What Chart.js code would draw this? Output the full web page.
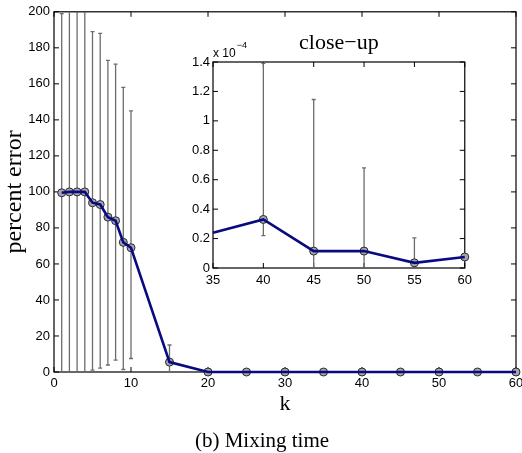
<!DOCTYPE html>
<html>
<head>
<meta charset="utf-8">
<script src="https://cdn.jsdelivr.net/npm/chart.js@4/dist/chart.umd.min.js"></script>
<style>
body { margin: 0; background: #fff; }
#wrap { position: relative; width: 522px; height: 453px; overflow: hidden; }
#main { position: absolute; left: 0; top: 0; }
#inset { position: absolute; left: 165px; top: 30px; }
#caption { position: absolute; left: 0; top: 429px; width: 524px; text-align: center;
  font: 21px "Liberation Serif", serif; line-height: 22px; color: #000; }
</style>
</head>
<body>
<div id="wrap">
  <canvas id="main" width="522" height="453"></canvas>
  <canvas id="inset" width="312" height="262"></canvas>
  <div id="caption">(b) Mixing time</div>
</div>
<script>
// main plot: percent error vs k
var kValues     = [1, 2, 3, 4, 5, 6, 7, 8, 9, 10, 15, 20, 25, 30, 35, 40, 45, 50, 55, 60];
var errValues   = [99.5, 100, 100, 100, 94, 93, 86, 84, 72, 69, 5.5, 0, 0, 0, 0, 0, 0, 0, 0, 0];
var errUpper    = [199, 206, 200, 200, 189, 188, 173, 171, 158, 145, 15, null, null, null, null, null, null, null, null, null];
var errLower    = [-2, -8, -4, -3, 1, 2.2, 3.9, 6.6, 1.4, 7.5, -4, null, null, null, null, null, null, null, null, null];

// inset close-up (values in units of 1e-4)
var insetK      = [35, 40, 45, 50, 55, 60];
var insetValues = [0.24, 0.33, 0.115, 0.115, 0.035, 0.075];
var insetUpper  = [null, 1.39, 1.145, 0.68, 0.205, null];
var insetLower  = [null, 0.22, -0.5, -0.3, -0.1, null];
var insetRadius = [0, 4, 4, 4, 4, 4];
var insetTitle  = 'close\u2212up';

var lineColor = '#0a0a80';
var markerFill = '#a6a6b0';
var markerEdge = '#2a2a2a';
var tickFont = { family: 'Liberation Sans', size: 13 };

function toPoints(xs, ys) {
    var pts = [];
    for (var i = 0; i < xs.length; i++) pts.push({ x: xs[i], y: ys[i] });
    return pts;
}

// box around plot + inward ticks
var framePlugin = {
    id: 'frame',
    beforeDatasetsDraw: function (chart) {
        var ctx = chart.ctx, a = chart.chartArea, len = 5;
        var xs = chart.scales.x, ys = chart.scales.y;
        ctx.save();
        ctx.strokeStyle = '#000';
        ctx.lineWidth = 1.2;
        ctx.strokeRect(a.left, a.top, a.right - a.left, a.bottom - a.top);
        ctx.lineWidth = 1;
        ctx.beginPath();
        xs.ticks.forEach(function (t) {
            var x = xs.getPixelForValue(t.value);
            ctx.moveTo(x, a.bottom); ctx.lineTo(x, a.bottom - len);
            ctx.moveTo(x, a.top); ctx.lineTo(x, a.top + len);
        });
        ys.ticks.forEach(function (t) {
            var y = ys.getPixelForValue(t.value);
            ctx.moveTo(a.left, y); ctx.lineTo(a.left + len, y);
            ctx.moveTo(a.right, y); ctx.lineTo(a.right - len, y);
        });
        ctx.stroke();
        ctx.restore();
    }
};

var errorBarPlugin = {
    id: 'errorBars',
    beforeDatasetsDraw: function (chart) {
        var ctx = chart.ctx, a = chart.chartArea;
        var xs = chart.scales.x, ys = chart.scales.y;
        ctx.save();
        ctx.beginPath();
        ctx.rect(a.left, a.top, a.right - a.left, a.bottom - a.top);
        ctx.clip();
        ctx.strokeStyle = '#6c6c6c';
        ctx.lineWidth = 1.3;
        chart.data.datasets.forEach(function (ds) {
            if (!ds.errUpper) return;
            ds.data.forEach(function (p, i) {
                var hi = ds.errUpper[i], lo = ds.errLower[i];
                if (hi == null) return;
                var x = xs.getPixelForValue(p.x);
                var y1 = ys.getPixelForValue(hi), y0 = ys.getPixelForValue(lo);
                ctx.beginPath();
                ctx.moveTo(x, y0); ctx.lineTo(x, y1);
                ctx.moveTo(x - 2, y1); ctx.lineTo(x + 2, y1);
                ctx.moveTo(x - 2, y0); ctx.lineTo(x + 2, y0);
                ctx.stroke();
            });
        });
        ctx.restore();
    }
};

// inset title (centred on the plot box) and the "x 10^-4" exponent label
var insetLabelsPlugin = {
    id: 'insetLabels',
    afterDraw: function (chart) {
        var ctx = chart.ctx, a = chart.chartArea;
        ctx.save();
        ctx.fillStyle = '#000';
        ctx.textBaseline = 'alphabetic';
        ctx.textAlign = 'center';
        ctx.font = '22px "Liberation Serif"';
        ctx.fillText(insetTitle, (a.left + a.right) / 2, 18.5);
        ctx.textAlign = 'left';
        ctx.font = '12px "Liberation Sans"';
        ctx.fillText('x 10', a.left, a.top - 5);
        var w = ctx.measureText('x 10').width;
        ctx.font = '9px "Liberation Sans"';
        ctx.fillText('\u22124', a.left + w + 1, a.top - 14);
        ctx.restore();
    }
};

function seriesSets(xs, ys, up, lo, radius) {
    var pts = toPoints(xs, ys);
    return [{
        data: pts,
        showLine: true,
        borderColor: lineColor,
        borderWidth: 2.6,
        pointRadius: 0,
        fill: false,
        tension: 0,
        clip: false,
        order: 0
    }, {
        data: pts,
        showLine: false,
        pointRadius: radius,
        pointBackgroundColor: markerFill,
        pointBorderColor: markerEdge,
        pointBorderWidth: 1,
        clip: false,
        order: 1,
        errUpper: up,
        errLower: lo
    }];
}

new Chart(document.getElementById('main'), {
    type: 'scatter',
    data: { datasets: seriesSets(kValues, errValues, errUpper, errLower, 4) },
    options: {
        responsive: false,
        animation: false,
        layout: { padding: { top: 9, right: 6, bottom: 36, left: 0 } },
        plugins: { legend: { display: false }, tooltip: { enabled: false } },
        scales: {
            x: {
                type: 'linear', min: 0, max: 60,
                grid: { display: false, drawTicks: false },
                border: { display: false },
                ticks: { stepSize: 10, padding: 4, color: '#000', font: tickFont, maxRotation: 0 },
                title: { display: true, text: 'k', color: '#000', padding: 0,
                         font: { family: 'Liberation Serif', size: 22 } },
                afterFit: function (s) { s.height = 45; s.paddingLeft = 0; s.paddingRight = 0; }
            },
            y: {
                min: 0, max: 200,
                grid: { display: false, drawTicks: false },
                border: { display: false },
                ticks: { stepSize: 20, padding: 4, color: '#000', font: tickFont },
                title: { display: true, text: 'percent error', color: '#000', padding: 0,
                         font: { family: 'Liberation Serif', size: 24 } },
                afterFit: function (s) { s.width = 54; }
            }
        }
    },
    plugins: [framePlugin, errorBarPlugin]
});

new Chart(document.getElementById('inset'), {
    type: 'scatter',
    data: { datasets: seriesSets(insetK, insetValues, insetUpper, insetLower, insetRadius) },
    options: {
        responsive: false,
        animation: false,
        layout: { padding: { top: 32, right: 9, bottom: 0, left: 0 } },
        plugins: { legend: { display: false }, tooltip: { enabled: false } },
        scales: {
            x: {
                type: 'linear', min: 35, max: 60,
                grid: { display: false, drawTicks: false },
                border: { display: false },
                ticks: { stepSize: 5, padding: 5, color: '#000', font: tickFont, maxRotation: 0 },
                afterFit: function (s) { s.height = 24; }
            },
            y: {
                min: 0, max: 1.4,
                grid: { display: false, drawTicks: false },
                border: { display: false },
                ticks: { stepSize: 0.2, padding: 3, color: '#000', font: tickFont,
                         callback: function (v) { return String(Math.round(v * 10) / 10); } },
                afterFit: function (s) { s.width = 48; }
            }
        }
    },
    plugins: [framePlugin, errorBarPlugin, insetLabelsPlugin]
});
</script>
</body>
</html>
